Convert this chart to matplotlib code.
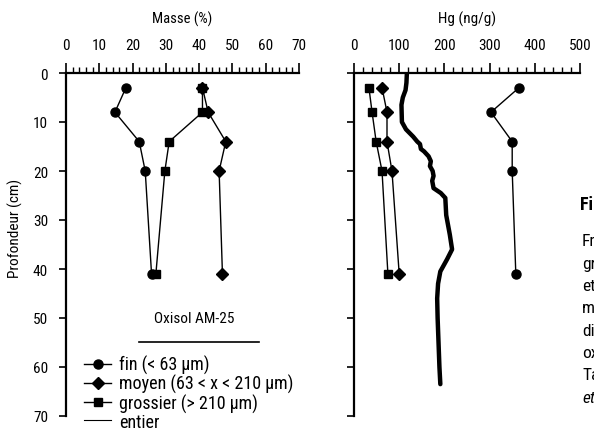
import matplotlib
matplotlib.use("Agg")
import matplotlib.pyplot as plt
from matplotlib import font_manager
from matplotlib.lines import Line2D
from matplotlib.ticker import MultipleLocator

# prefer a condensed sans face when one is installed
_installed = {f.name for f in font_manager.fontManager.ttflist}
_face = next((n for n in ('Liberation Sans Narrow', 'Roboto Condensed',
                          'Roboto', 'Liberation Sans') if n in _installed),
             'DejaVu Sans')
plt.rcParams['font.family'] = [_face, 'DejaVu Sans']
plt.rcParams['font.size'] = 10.5

# ---- data -------------------------------------------------------------
depth = [3, 8, 14, 20, 41]                  # cm

masse_fin = [18, 14.7, 22, 23.8, 25.7]      # %
masse_moyen = [41, 42.7, 48, 46, 47]
masse_grossier = [41, 41, 31, 29.7, 27]

hg_fin = [365, 303, 350, 350, 358]          # ng/g
hg_moyen = [62, 73, 73, 84, 100]
hg_grossier = [33, 40, 49, 62, 75]

entier_depth = [0, 2, 3.5, 5, 6.5, 10, 11.5, 13, 14, 14.5, 15.5, 16, 17, 18,
                19, 20, 21, 22, 23.5, 24.5, 25.5, 29, 33, 36, 38, 40.5, 43,
                46, 50, 55, 60, 63.5]
entier_hg = [117, 116, 114, 108, 105, 106, 115, 131, 140, 146, 148, 155, 165,
             170, 168, 174, 176, 173, 176, 192, 202, 204, 212, 217, 206, 191,
             186, 184, 185, 187, 189, 191]

labels = ["fin (< 63 µm)", "moyen (63 < x < 210 µm)", "grossier (> 210 µm)", "entier"]

# ---- layout -----------------------------------------------------------
W, H = 594, 431
fig = plt.figure(figsize=(W / 100, H / 100), dpi=100)


def box(x0, x1, ytop, ybot):
    return [x0 / W, 1 - ybot / H, (x1 - x0) / W, (ybot - ytop) / H]


ax1 = fig.add_axes(box(66, 299, 74, 417))
ax2 = fig.add_axes(box(354, 580, 74, 417))

mk = dict(color='black', lw=1.0)
for ax in (ax1, ax2):
    ax.set_ylim(70, 0)
    for s in ('bottom', 'right'):
        ax.spines[s].set_visible(False)
    for s in ('top', 'left'):
        ax.spines[s].set_linewidth(1.6)
    ax.xaxis.set_ticks_position('top')
    ax.xaxis.set_label_position('top')
    ax.yaxis.set_major_locator(MultipleLocator(10))
    ax.tick_params(axis='x', which='major', direction='out', length=7,
                   width=1.2, pad=8, labelsize=11)
    ax.tick_params(axis='x', which='minor', direction='out', length=4,
                   width=1.0)
    ax.tick_params(axis='y', which='major', direction='out', length=5,
                   width=1.2, pad=8, labelsize=11)
    ax.xaxis.label.set_va('center')

# left: mass fractions
ax1.set_xlim(0, 70)
ax1.xaxis.set_major_locator(MultipleLocator(10))
ax1.xaxis.set_minor_locator(MultipleLocator(2))
ax1.plot(masse_fin, depth, marker='o', ms=6.5, **mk)
ax1.plot(masse_moyen, depth, marker='D', ms=6, **mk)
ax1.plot(masse_grossier, depth, marker='s', ms=6, **mk)
ax1.set_xlabel("Masse (%)")
ax1.xaxis.set_label_coords(0.5, (417 - 19) / 343)

# right: mercury
ax2.set_xlim(0, 500)
ax2.xaxis.set_major_locator(MultipleLocator(100))
ax2.xaxis.set_minor_locator(MultipleLocator(20))
ax2.plot(hg_fin, depth, marker='o', ms=6.5, **mk)
ax2.plot(hg_moyen, depth, marker='D', ms=6, **mk)
ax2.plot(hg_grossier, depth, marker='s', ms=6, **mk)
ax2.plot(entier_hg, entier_depth, color='black', lw=3.2,
         solid_joinstyle='round', solid_capstyle='round')
ax2.set_yticklabels([])
ax2.set_xlabel("Hg (ng/g)", fontsize=11)
ax2.xaxis.set_label_coords(0.5, (417 - 19) / 343)

fig.text(15 / W, 1 - 228 / H, "Profondeur (cm)", rotation=90,
         ha='center', va='center', fontsize=11)

# sample name with rule underneath
ax1.text((194 - 66) / 233, (417 - 319) / 343, "Oxisol AM-25",
         transform=ax1.transAxes, ha='center', va='center', fontsize=11)
ax1.add_line(Line2D([(139 - 66) / 233, (259 - 66) / 233],
                    [(417 - 343) / 343] * 2, transform=ax1.transAxes,
                    color='black', lw=1.2))

handles = [Line2D([], [], marker='o', ms=6.5, **mk),
           Line2D([], [], marker='D', ms=6, **mk),
           Line2D([], [], marker='s', ms=6, **mk),
           Line2D([], [], color='black', lw=0.8)]
leg = ax1.legend(handles, labels, loc='upper left',
                 bbox_to_anchor=(84 / W, 1 - 356 / H),
                 bbox_transform=fig.transFigure, frameon=False,
                 fontsize=13, handlelength=1.5, handletextpad=0.42,
                 labelspacing=0.0, borderpad=0, borderaxespad=0)

# caption column at the right edge
fig.text(580 / W, 1 - 205 / H, "Fi", fontsize=13, fontweight='bold',
         ha='left', va='center')
caption = ["Fr", "gr", "et", "m", "di", "ox", "Ta"]
for i, frag in enumerate(caption):
    fig.text(582 / W, 1 - (242 + 22.3 * i) / H, frag, fontsize=12.5,
             ha='left', va='center')
fig.text(582 / W, 1 - (242 + 22.3 * 7) / H, "et", fontsize=12.5,
         style='italic', ha='left', va='center')

fig.savefig("out.png", dpi=100)
